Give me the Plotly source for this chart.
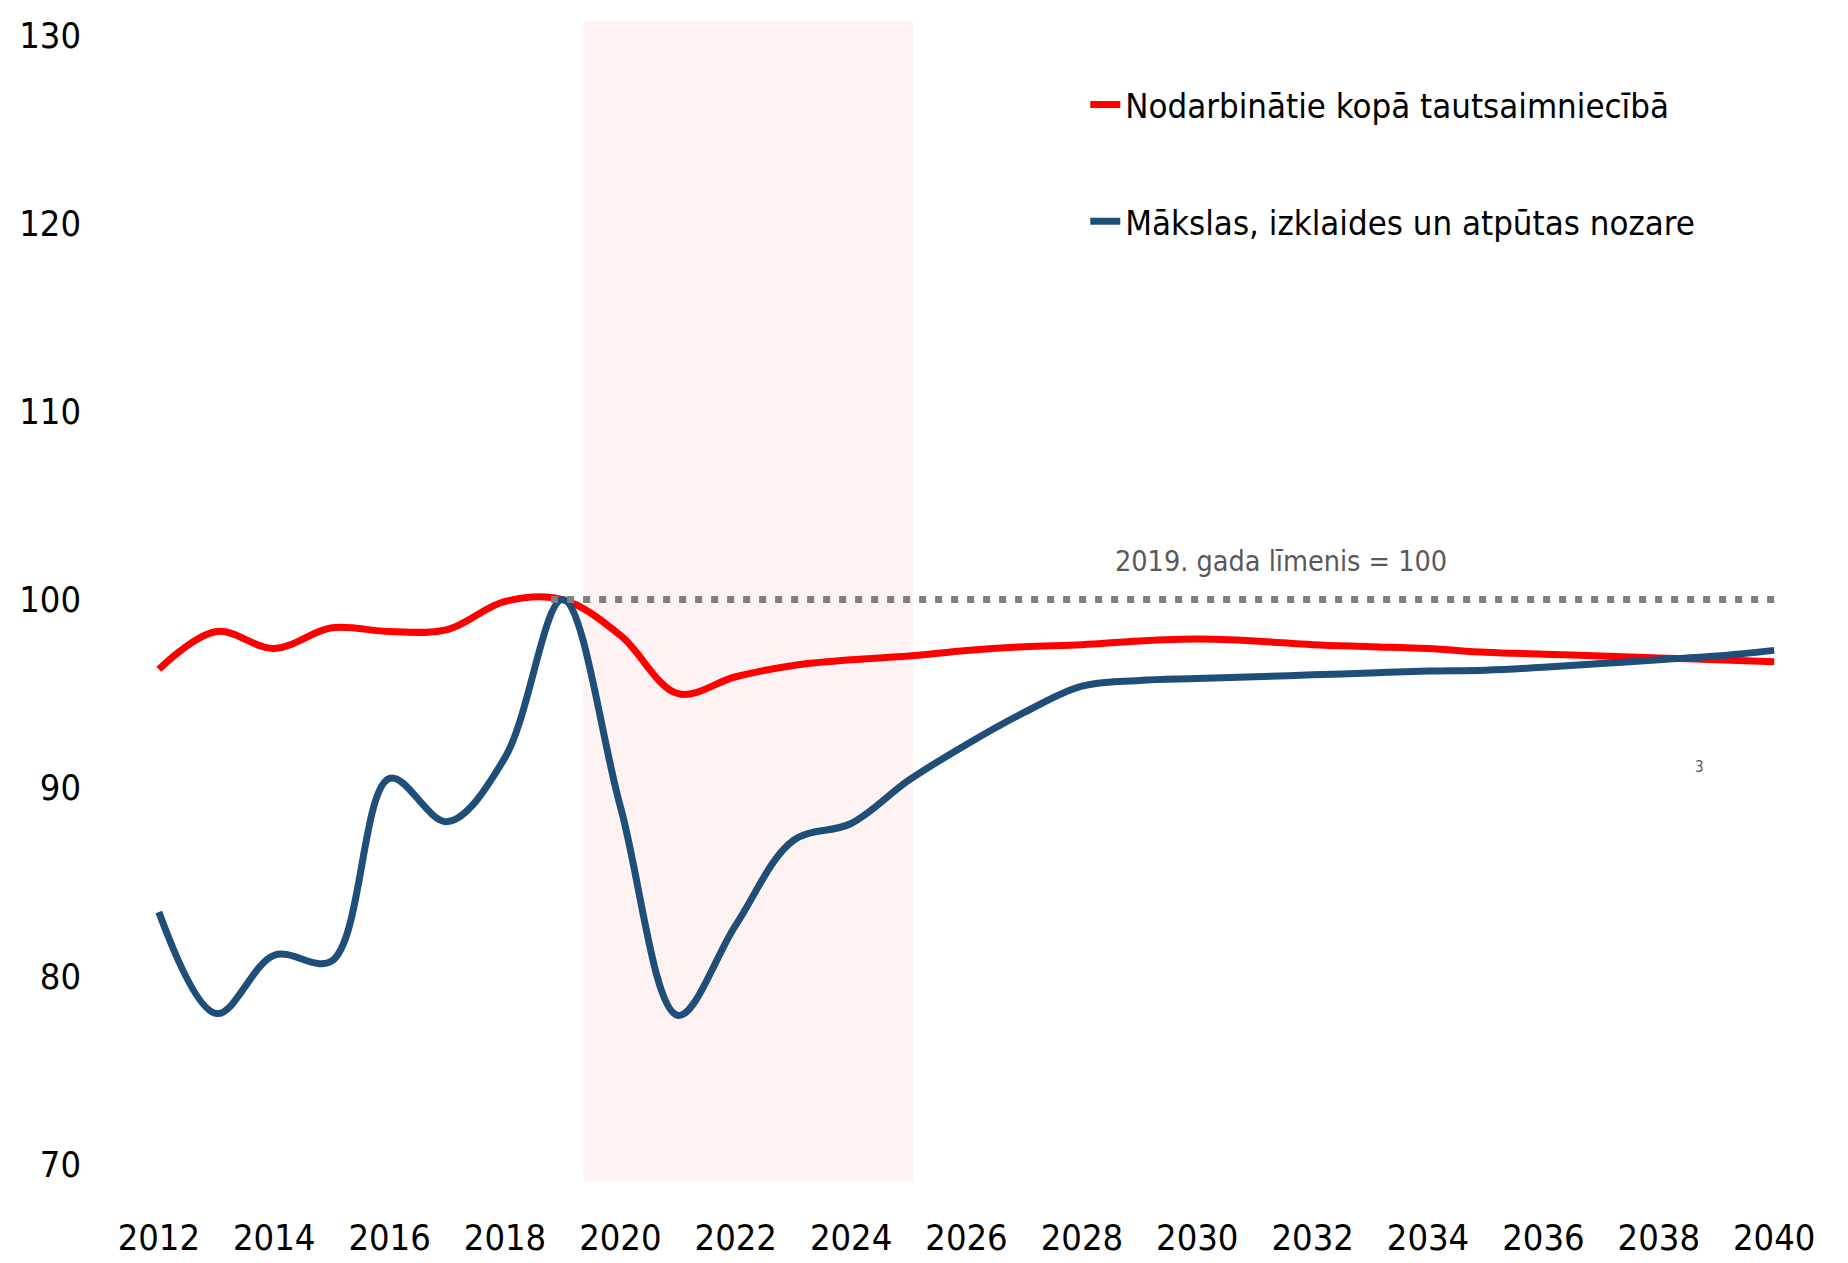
import plotly.graph_objects as go

FONT = "Liberation Sans Narrow, DejaVu Sans Condensed, Arial Narrow, sans-serif"

years = list(range(2012, 2041))

total_employed = [96.3, 98.3, 97.4, 98.5, 98.3, 98.4, 99.9, 100.0, 98.1, 95.0,
                  95.9, 96.5, 96.8, 97.0, 97.3, 97.5, 97.6, 97.8, 97.9, 97.8,
                  97.6, 97.5, 97.4, 97.2, 97.1, 97.0, 96.9, 96.8, 96.7]

arts_sector = [83.4, 78.0, 81.1, 80.8, 90.5, 88.2, 91.6, 100.0, 89.0, 77.9,
               82.7, 87.2, 88.1, 90.4, 92.3, 94.0, 95.4, 95.7, 95.8, 95.9,
               96.0, 96.1, 96.2, 96.25, 96.4, 96.6, 96.8, 97.0, 97.3]

base_x = [2018.8, 2040]
base_y = [100, 100]

band_years = [2019.36, 2025.07]

names = ["Nodarbinātie kopā tautsaimniecībā", "Mākslas, izklaides un atpūtas nozare"]
colors = ["#FF0000", "#1F4E79"]

fig = go.Figure()

for name, vals, col, grp in zip(names, [total_employed, arts_sector], colors, ["a", "b"]):
    fig.add_trace(go.Scatter(x=years, y=vals, name=name, mode="lines",
                             legendgroup=grp,
                             line=dict(color=col, width=7, shape="spline",
                                       smoothing=1.0)))

# 2019 baseline, drawn on top of the series like in the source
fig.add_trace(go.Scatter(x=base_x, y=base_y, mode="lines", showlegend=False,
                         hoverinfo="skip",
                         line=dict(color="#7F7F7F", width=7, dash="7px,9px")))

fig.add_shape(type="rect", xref="x", yref="paper",
              x0=band_years[0], x1=band_years[1], y0=0, y1=1,
              fillcolor="#FEF3F2", line=dict(width=0), layer="below")

fig.add_annotation(x=2031.45, y=102.0, text="2019. gada līmenis = 100",
                   showarrow=False, font=dict(family=FONT, size=28.5, color="#595959"))
fig.add_annotation(x=2038.7, y=91.1, text="3", showarrow=False,
                   font=dict(family=FONT, size=15, color="#595959"))

# page body adds an 8px offset, margins compensate for it
fig.update_layout(
    width=1848, height=1263,
    paper_bgcolor="white", plot_bgcolor="white",
    margin=dict(l=122, r=53, t=13, b=90),
    font=dict(family=FONT, color="#000000", size=36),
    legend=dict(x=0.571, y=0.953, xanchor="left", yanchor="top",
                traceorder="grouped", tracegroupgap=69,
                font=dict(family=FONT, size=34.5, color="#000000"),
                bgcolor="rgba(0,0,0,0)"),
)
fig.update_xaxes(range=[2011.5, 2040.5], tickvals=list(range(2012, 2041, 2)),
                 showgrid=False, zeroline=False, showline=False, automargin=False,
                 ticklabelstandoff=32, tickfont=dict(size=36))
fig.update_yaxes(range=[69.1, 130.75], tickvals=[70, 80, 90, 100, 110, 120, 130],
                 showgrid=False, zeroline=False, showline=False, automargin=False,
                 ticklabelstandoff=48, tickfont=dict(size=36))

fig.write_html("out.html")
